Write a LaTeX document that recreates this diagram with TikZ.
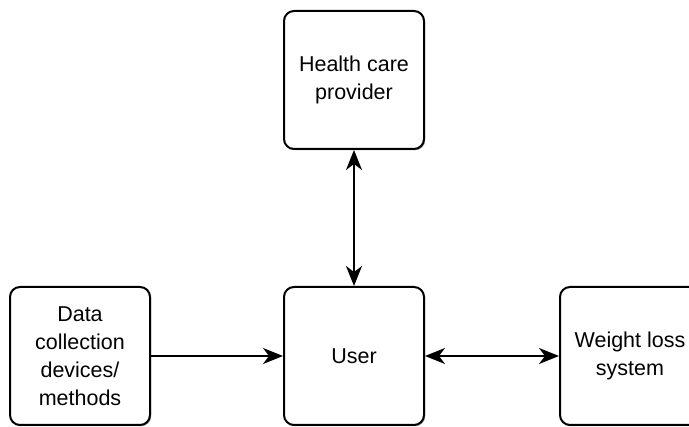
\documentclass[tikz,border=0pt]{standalone}
\usepackage{fontspec}
\setmainfont{Liberation Sans}
\usetikzlibrary{arrows.meta,shadows}
\begin{document}
\begin{tikzpicture}[x=1pt,y=1pt,
  block/.style={draw=black, line width=2pt, rounded corners=10pt, fill=white,
    minimum width=140pt, minimum height=138pt, align=center,
    font=\fontsize{21.5}{28}\selectfont,
    drop shadow={shadow xshift=1.2pt, shadow yshift=-1.2pt, fill=black!60, opacity=0.7}},
  link/.style={line width=2pt, -{Stealth[length=20pt,width=16pt,inset=6pt]}},
  biglink/.style={line width=2pt,
    {Stealth[length=20pt,width=16pt,inset=6pt]}-{Stealth[length=20pt,width=16pt,inset=6pt]}}]
  \useasboundingbox (0,0) rectangle (689,427);
  \clip (0,0) rectangle (689,427);
  % boxes (y measured upward from the bottom edge)
  \node[block] (hcp)  at (354,347) {Health care\\provider};
  \node[block] (data) at (80,71)   {Data\\collection\\devices/\\methods};
  \node[block] (user) at (354,71)  {User};
  \node[block] (wls)  at (630,71)  {Weight loss\\system};
  % connectors
  \draw[biglink] (hcp) -- (user);
  \draw[link] (data) -- (user);
  \draw[biglink] (user) -- (wls);
\end{tikzpicture}
\end{document}
